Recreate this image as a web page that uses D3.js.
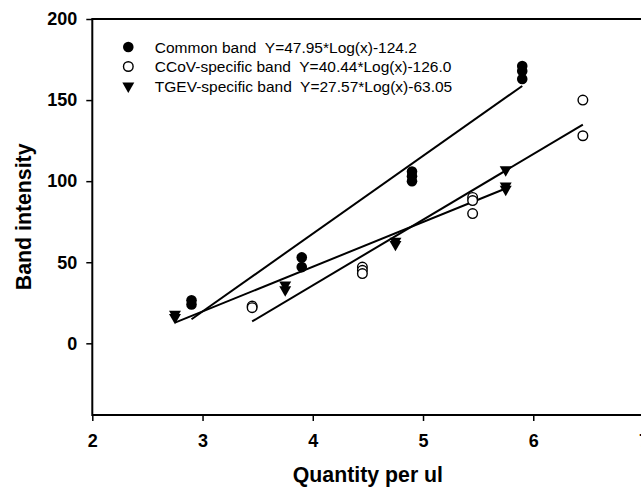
<!DOCTYPE html>
<html lang="en">
<head>
    <meta charset="UTF-8">
    <title>Band intensity vs quantity</title>
    <style>
        body {
            margin: 0;
            background-color: #fff;
        }

        svg {
            display: block;
            font-family: "Liberation Sans", Arial, sans-serif;
        }

        .tick text {
            font-weight: bold;
            font-size: 18px;
            fill: #000;
        }

        .legend text {
            font-size: 15.5px;
        }

        .title {
            font-weight: bold;
            font-size: 21.3px;
        }
    </style>
</head>
<body>
<svg id="chart" width="641" height="490"></svg>
<script src="https://d3js.org/d3.v7.min.js"></script>
<script>
    // data (x = log quantity)
    const seriesNames = ["Common band", "CCoV-specific band", "TGEV-specific band"];
    const equations = ["Y=47.95*Log(x)-124.2", "Y=40.44*Log(x)-126.0", "Y=27.57*Log(x)-63.05"];

    const commonX = [2.9, 2.9, 3.9, 3.9, 4.9, 4.9, 4.9, 5.9, 5.9, 5.9];
    const commonY = [26.5, 24, 53, 47, 106, 103, 100, 171, 168, 163];

    const ccovX = [3.45, 3.45, 4.45, 4.45, 4.45, 5.45, 5.45, 5.45, 6.45, 6.45];
    const ccovY = [23, 22, 47, 45, 43, 90, 88, 80, 150, 128];

    const tgevX = [2.75, 2.75, 3.75, 3.75, 4.75, 4.75, 5.75, 5.75, 5.75];
    const tgevY = [18, 16, 36, 33, 63, 61, 107, 97, 95];

    // regression lines from the legend
    const slopes = [47.95, 40.44, 27.57];
    const intercepts = [-124.2, -126.0, -63.05];

    const xTicks = [2, 3, 4, 5, 6, 7];
    const yTicks = [0, 50, 100, 150, 200];

    let margin = {left: 92.3, top: 19};
    let width = 551.2;
    let height = 396;

    let xScale = d3.scaleLinear().domain([2, 7]).range([0, width]);
    let yScale = d3.scaleLinear().domain([-44.2, 200]).range([height, 0]);

    const svg = d3.select("#chart");
    const g = svg.append("g")
        .attr("transform", `translate(${margin.left}, ${margin.top})`);

    // frame
    g.append("rect")
        .attr("width", width)
        .attr("height", height)
        .attr("fill", "none")
        .attr("stroke", "#000")
        .attr("stroke-width", 2);

    g.append("g")
        .attr("transform", `translate(0, ${height})`)
        .call(d3.axisBottom(xScale).tickValues(xTicks).tickSize(6).tickPadding(13).tickFormat(d3.format("d")))
        .call(a => a.select(".domain").remove())
        .call(a => a.selectAll("line").attr("stroke-width", 1.5));

    g.append("g")
        .call(d3.axisLeft(yScale).tickValues(yTicks).tickSize(6).tickPadding(9).tickFormat(d3.format("d")))
        .call(a => a.select(".domain").remove())
        .call(a => a.selectAll("line").attr("stroke-width", 1.5));

    // fit lines, from the min to the max x of each series
    const xs = [commonX, ccovX, tgevX];
    const ys = [commonY, ccovY, tgevY];
    xs.forEach((sx, i) => {
        let ext = d3.extent(sx);
        g.append("line")
            .attr("x1", xScale(ext[0]))
            .attr("y1", yScale(slopes[i] * ext[0] + intercepts[i]))
            .attr("x2", xScale(ext[1]))
            .attr("y2", yScale(slopes[i] * ext[1] + intercepts[i]))
            .attr("stroke", "#000")
            .attr("stroke-width", 2);
    });

    const tri = d3.symbol().type(d3.symbolTriangle).size(62);

    function drawMarker(sel, i) {
        if (i === 0) {
            sel.append("circle").attr("r", 5.3).attr("fill", "#000");
        } else if (i === 1) {
            sel.append("circle").attr("r", 4.8).attr("fill", "#fff")
                .attr("stroke", "#000").attr("stroke-width", 1.4);
        } else {
            sel.append("path").attr("d", tri()).attr("transform", "rotate(180)").attr("fill", "#000");
        }
    }

    xs.forEach((sx, i) => {
        sx.forEach((x, j) => {
            let m = g.append("g")
                .attr("transform", `translate(${xScale(x)}, ${yScale(ys[i][j])})`);
            drawMarker(m, i);
        });
    });

    // legend
    const legend = svg.append("g").attr("class", "legend");
    seriesNames.forEach((name, i) => {
        let row = legend.append("g")
            .attr("transform", `translate(128.3, ${47 + i * 19.5})`);
        drawMarker(row, i);
        row.append("text")
            .attr("x", 26.5)
            .attr("dy", "0.36em")
            .attr("xml:space", "preserve")
            .text(name + "  " + equations[i]);
    });

    // axis titles
    svg.append("text")
        .attr("class", "title")
        .attr("x", margin.left + xScale(4.5))
        .attr("y", 482)
        .attr("text-anchor", "middle")
        .text("Quantity per ul");

    svg.append("text")
        .attr("class", "title")
        .attr("transform", `translate(31, ${margin.top + yScale(78)}) rotate(-90)`)
        .attr("text-anchor", "middle")
        .text("Band intensity");
</script>
</body>
</html>
